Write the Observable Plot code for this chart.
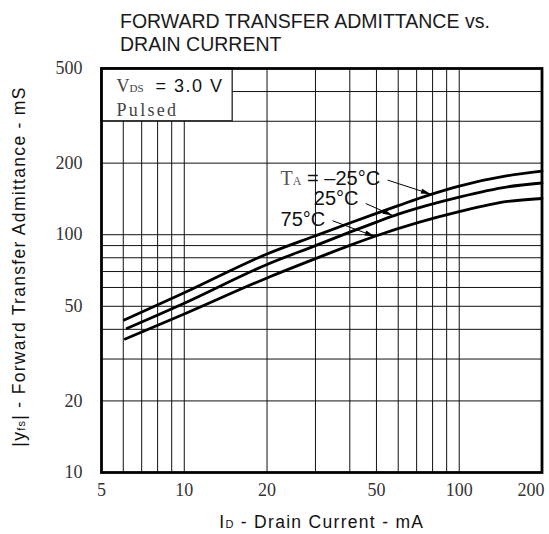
<!DOCTYPE html>
<html><head><meta charset="utf-8">
<script src="https://cdn.jsdelivr.net/npm/d3@7"></script>
<script src="https://cdn.jsdelivr.net/npm/@observablehq/plot@0.6"></script>
<style>
body{margin:0;background:#fff;}
#title{height:56px;box-sizing:border-box;padding:10.4px 0 0 120px;font:19.5px/22.4px "Liberation Sans",Arial,sans-serif;color:#1a1a1a;}
#chart svg{display:block;}
</style></head><body>
<div id="title">FORWARD TRANSFER ADMITTANCE vs.<br>DRAIN CURRENT</div>
<div id="chart"></div>
<script>
// Curves (ID in mA, |yfs| in mS)
const xTop=[6.05,10,20,30,40,50,60,78,100,150,200];
const yTop=[43.8,57,83,99,112,123,132.5,147,160,177,185];
const xMid=[6.2,10,20,30,40,50,60,100,150,200];
const yMid=[40.4,51.5,75,90,102.5,113,122,144,159,165];
const xBot=[6.1,10,20,30,40,50,100,150,200];
const yBot=[36.4,46.4,65.8,79.3,90.2,99,125,138,142];
const seriesNames=["-25","25","75"];

// Axes / grid
const xTicks=[5,10,20,50,100];
const xTickLast=[200];
const yTicks=[10,20,50,100,200,500];
const xGrid=[6,7,8,9,10,20,30,40,50,60,70,80,90,100];
const yGrid=[20,30,40,50,60,70,80,90,100,200,300,400];

// Condition box and annotations (data units)
const boxX=[5,15], boxY=[300,500];
const condText=["VDS = 3.0 V","Pulsed"];
const condX=[5.67,5.67], condY=[400,317];
const labelText=["TA = –25°C","25°C","75°C"];
const labelX=[22.4,29.6,22.4], labelY=[162.6,132.7,109.3];
const arrowX1=[54.9,45.7,34.6], arrowY1=[169.7,135.3,114.5];
const arrowX2=[78.9,57.2,49.3], arrowY2=[148,120.5,98.3];

const rows=[];
[[xTop,yTop],[xMid,yMid],[xBot,yBot]].forEach(([xs,ys],k)=>xs.forEach((x,i)=>rows.push({s:seriesNames[k],x,y:ys[i]})));
const arrows=arrowX1.map((x,i)=>({x1:x,y1:arrowY1[i],x2:arrowX2[i],y2:arrowY2[i]}));
const box=[{x1:boxX[0],x2:boxX[1],y1:boxY[0],y2:boxY[1]}];

const sans='"Liberation Sans",Arial,sans-serif';
const serif='"Liberation Serif","Times New Roman",serif';

const tickStyle={fontSize:18,fontFamily:serif,fill:"#333"};
const svg=Plot.plot({
  width:549,height:478,
  marginLeft:101,marginRight:7.5,marginTop:12,marginBottom:62,
  x:{type:"log",domain:[5,200],axis:null},
  y:{type:"log",domain:[10,500],axis:null},
  marks:[
    Plot.ruleX(xGrid,{stroke:"#111",strokeWidth:1}),
    Plot.ruleY(yGrid,{stroke:"#111",strokeWidth:1}),
    Plot.rect(box,{x1:"x1",x2:"x2",y1:"y1",y2:"y2",fill:"white",stroke:"#222",strokeWidth:1.3}),
    Plot.line(rows,{x:"x",y:"y",z:"s",stroke:"#000",strokeWidth:2.8,curve:"monotone-x"}),
    Plot.link(arrows,{x1:"x1",y1:"y1",x2:"x2",y2:"y2",stroke:"#000",strokeWidth:1,markerEnd:"arrow"}),
    Plot.text(labelText,{x:labelX,y:labelY,text:d=>d,textAnchor:"start",lineAnchor:"bottom",fontSize:20,fontFamily:sans,fill:"#111"}),
    Plot.text(condText,{x:condX,y:condY,text:d=>d,textAnchor:"start",lineAnchor:"bottom",fontSize:18,fontFamily:serif,fill:"#444"}),
    Plot.text(xTicks,{x:d=>d,text:d=>String(d),frameAnchor:"bottom",lineAnchor:"top",dy:11,textAnchor:"middle",...tickStyle}),
    Plot.text(xTickLast,{x:d=>d,text:d=>String(d),frameAnchor:"bottom",lineAnchor:"top",dy:11,dx:-11,textAnchor:"middle",...tickStyle}),
    Plot.text(yTicks,{y:d=>d,text:d=>String(d),frameAnchor:"left",lineAnchor:"middle",dx:-19,textAnchor:"end",...tickStyle}),
    Plot.text(["ID - Drain Current - mA"],{frameAnchor:"bottom",dy:55,lineAnchor:"bottom",textAnchor:"middle",fontSize:17.5,fontFamily:sans,fill:"#111"}),
    Plot.text(["|yfs| - Forward Transfer Admittance - mS"],{frameAnchor:"left",dx:-77,dy:-4,rotate:-90,textAnchor:"middle",lineAnchor:"bottom",fontSize:17.5,fontFamily:sans,fill:"#111"}),
    Plot.frame({stroke:"#000",strokeWidth:2.8})
  ]
});
document.getElementById("chart").appendChild(svg);

// rich text (subscripts, mixed fonts)
const S=d3.select(svg);
function rich(str,segs){
  S.selectAll("text").filter(function(){return this.textContent===str;}).each(function(){
    const sel=d3.select(this); sel.text(null);
    segs.forEach(s=>{const t=sel.append("tspan").text(s.t);
      if(s.size)t.attr("font-size",s.size);
      if(s.family)t.attr("font-family",s.family);
      if(s.fill)t.attr("fill",s.fill);
      if(s.dx)t.attr("dx",s.dx);
      if(s.ls!=null)t.attr("letter-spacing",s.ls);});
  });
}
rich("TA = –25°C",[{t:"T",family:serif,fill:"#555",size:20},{t:"A",family:serif,fill:"#555",size:12},{t:" = –25°C",family:sans,fill:"#111",size:20}]);
rich("VDS = 3.0 V",[{t:"V",family:serif,fill:"#444",size:18},{t:"DS",family:serif,fill:"#444",size:11},{t:"= 3.0 V",family:sans,fill:"#111",size:18,dx:12,ls:1.5}]);
rich("Pulsed",[{t:"Pulsed",family:serif,fill:"#444",size:18,ls:2.3}]);
rich("ID - Drain Current - mA",[{t:"I",ls:1.3},{t:"D",size:11,ls:1.3},{t:" - Drain Current - mA",ls:1.3}]);
rich("|yfs| - Forward Transfer Admittance - mS",[{t:"|y",ls:1.3},{t:"fs",size:11,ls:1.3},{t:"| - Forward Transfer Admittance - mS",ls:1.3}]);

// filled arrow heads
S.selectAll("marker").each(function(){
  const m=d3.select(this);
  m.attr("viewBox","-11 -3 12 6").attr("markerWidth",12).attr("markerHeight",6).attr("markerUnits","userSpaceOnUse").attr("refX",0).attr("refY",0);
  m.selectAll("*").remove();
  m.append("path").attr("d","M-10,-2.6L0,0L-10,2.6Z").attr("fill","#000").attr("stroke","none");
});
</script></body></html>
